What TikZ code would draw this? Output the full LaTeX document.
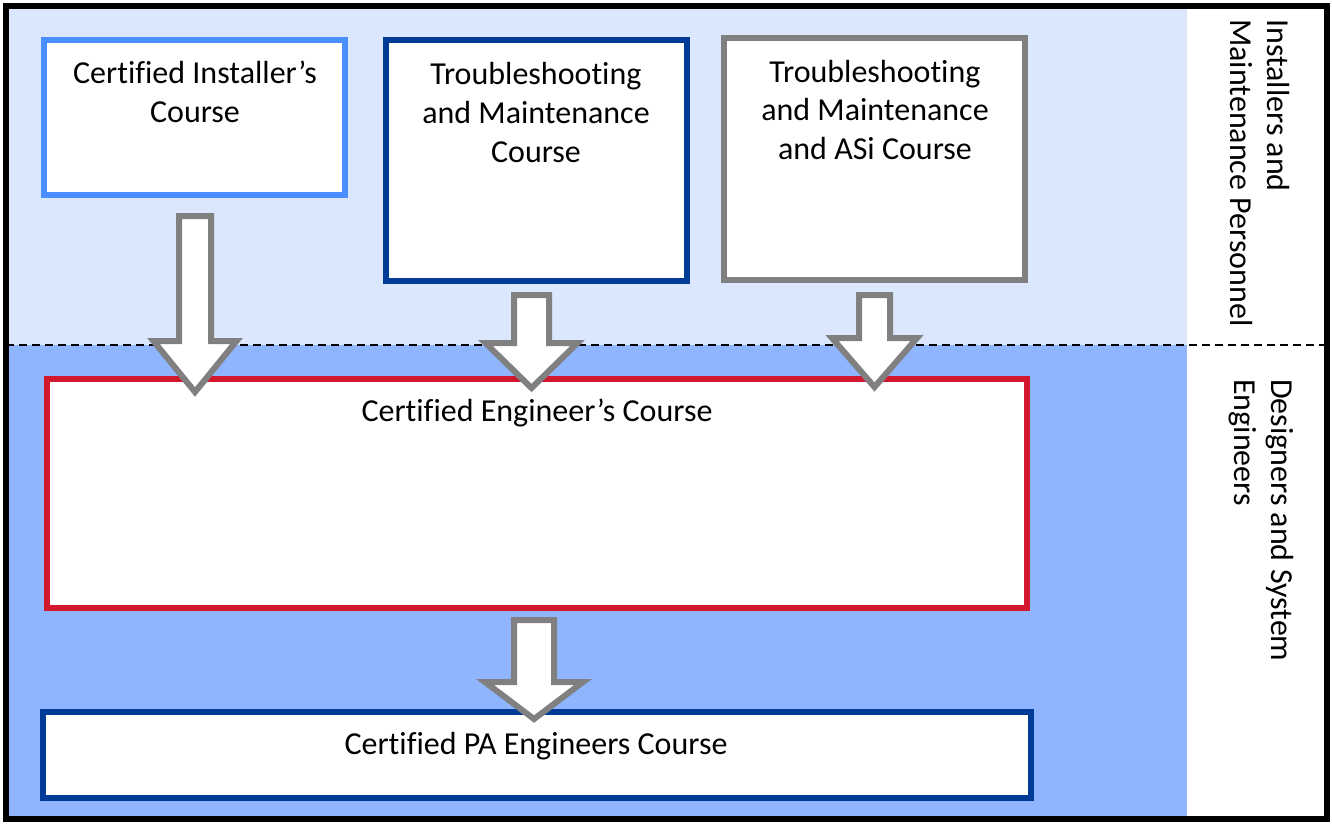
\documentclass[tikz,border=0pt]{standalone}
\usepackage{fontspec}
\setmainfont{Carlito}[Ligatures={NoCommon}]
\usetikzlibrary{calc}
\definecolor{lightbg}{HTML}{DAE7FD}
\definecolor{darkbg}{HTML}{8EB5FD}
\definecolor{instblue}{HTML}{4A8FFF}
\definecolor{navy}{HTML}{003B98}
\definecolor{engred}{HTML}{D2182F}
\definecolor{arrowgray}{HTML}{808080}
\tikzset{
  coursebox/.style={draw, line width=6pt, fill=white, inner sep=0pt, rectangle},
  boxtext/.style={font=\fontsize{32}{39}\selectfont, align=center, inner sep=0pt, anchor=base},
  sidetext/.style={font=\fontsize{32}{37}\selectfont, align=left, inner sep=0pt, rotate=-90, anchor=north west},
  blockarrow/.style={draw=arrowgray, fill=white, line width=6pt, line join=miter, miter limit=10},
  separator/.style={line width=1.8pt, dash pattern=on 8pt off 5pt}
}
\newcommand\blockarr[5]{%
  \draw[blockarrow] ($(#1)+(-#3,0)$) -- ($(#1)+(#3,0)$) -- ($(#2)+(#3,-#5)$) -- ($(#2)+(#4,-#5)$) -- (#2) -- ($(#2)+(-#4,-#5)$) -- ($(#2)+(-#3,-#5)$) -- cycle;}
\begin{document}
\begin{tikzpicture}[x=1pt,y=-1pt]
\useasboundingbox (0,0) rectangle (1332,823);
% backgrounds
\fill[lightbg] (8,8) rectangle (1187,345);
\fill[darkbg] (8,345) rectangle (1187,818);
\draw[line width=6pt] (6,6) rectangle (1327,819);
\coordinate (sepL) at (6,345);
\coordinate (sepR) at (1327,345);
\draw[separator] (sepL) -- (sepR);
% boxes
\node[coursebox, draw=instblue, minimum width=301pt, minimum height=155pt] (inst) at (194.5,117.5) {};
\node[coursebox, draw=navy, minimum width=301pt, minimum height=241pt] (tm) at (536.5,160.5) {};
\node[coursebox, draw=arrowgray, minimum width=301pt, minimum height=242pt] (tmasi) at (874.5,159) {};
\node[coursebox, draw=engred, minimum width=980pt, minimum height=229pt] (eng) at (537,493.5) {};
\node[coursebox, draw=navy, minimum width=988pt, minimum height=86pt] (pa) at (537,755) {};
% arrows
\coordinate (a1s) at (195,216);   \coordinate (a1t) at (195,392);
\coordinate (a2s) at (531.5,295); \coordinate (a2t) at (531.5,388);
\coordinate (a3s) at (874.5,295); \coordinate (a3t) at (874.5,387);
\coordinate (a4s) at (534,620);   \coordinate (a4t) at (534,719);
\blockarr{a1s}{a1t}{16}{41.5}{51}
\blockarr{a2s}{a2t}{17.5}{46}{45}
\blockarr{a3s}{a3t}{15.5}{42.5}{49}
\blockarr{a4s}{a4t}{20}{49}{37}
% texts (base anchor = baseline of the last line)
\node[boxtext] (instT) at (195,122) {Certified Installer’s\\Course};
\node[boxtext] (tmT) at (536,162) {Troubleshooting\\and Maintenance\\Course};
\node[boxtext, font=\fontsize{32}{38.5}\selectfont] (tmasiT) at (875,159) {Troubleshooting\\and Maintenance\\and ASi Course};
\node[boxtext] (engT) at (537,421) {Certified Engineer’s Course};
\node[boxtext] (paT) at (536,754) {Certified PA Engineers Course};
\node[sidetext] (instL) at (1290,19) {Installers and\\Maintenance Personnel};
\node[sidetext] (desL) at (1294,379) {Designers and System\\Engineers};
\end{tikzpicture}
\end{document}
